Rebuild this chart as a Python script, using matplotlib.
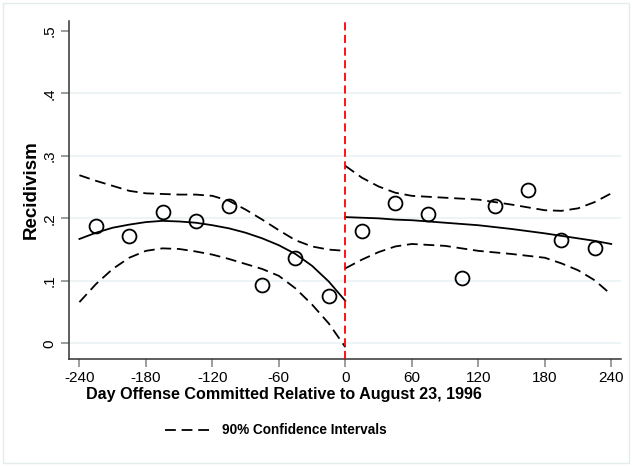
import matplotlib
matplotlib.use("Agg")
from matplotlib import pyplot as plt
from matplotlib.patches import Rectangle

plt.rcParams['font.family'] = ['Liberation Sans', 'DejaVu Sans']

# binned means (days relative to Aug 23, 1996)
bin_days = [-225, -195, -165, -135, -105, -75, -45, -15,
            15, 45, 75, 105, 135, 165, 195, 225]
bin_recid = [0.187, 0.172, 0.210, 0.196, 0.219, 0.093, 0.137, 0.076,
             0.180, 0.225, 0.207, 0.104, 0.219, 0.245, 0.165, 0.153]

# fitted line and 90% CI
left_days = [-240, -225, -210, -195, -180, -165, -150, -135, -120, -105, -90,
             -75, -60, -45, -30, -15, 0]
left_fit = [0.167, 0.177, 0.185, 0.190, 0.194, 0.196, 0.195, 0.193, 0.189, 0.184, 0.177,
            0.168, 0.157, 0.143, 0.124, 0.099, 0.068]
left_hi = [0.269, 0.260, 0.252, 0.244, 0.240, 0.239, 0.238, 0.238, 0.236, 0.228, 0.214,
           0.198, 0.181, 0.165, 0.155, 0.150, 0.148]
left_lo = [0.066, 0.095, 0.119, 0.137, 0.148, 0.152, 0.151, 0.147, 0.142, 0.135, 0.127,
           0.119, 0.108, 0.088, 0.062, 0.032, -0.006]

right_days = [0, 15, 30, 45, 60, 90, 120, 150, 180, 195, 210, 225, 240]
right_fit = [0.202, 0.201, 0.200, 0.198, 0.197, 0.193, 0.189, 0.183, 0.176, 0.172, 0.168,
             0.164, 0.159]
right_hi = [0.284, 0.265, 0.251, 0.241, 0.236, 0.233, 0.230, 0.222, 0.213, 0.212, 0.216,
            0.226, 0.240]
right_lo = [0.120, 0.134, 0.146, 0.155, 0.159, 0.156, 0.148, 0.143, 0.137, 0.128, 0.117,
            0.101, 0.078]

x_ticks = [-240, -180, -120, -60, 0, 60, 120, 180, 240]
y_ticks = [0, 0.1, 0.2, 0.3, 0.4, 0.5]
y_labels = ["0", ".1", ".2", ".3", ".4", ".5"]

fig = plt.figure(figsize=(6.32, 4.66), dpi=100)
ax = fig.add_axes([69 / 632, 1 - 359 / 466, (621 - 69) / 632, (359 - 21) / 466])

for yv in y_ticks[:-1]:
    ax.axhline(yv, color="#eaf2f3", lw=1.2, zorder=0)

dash = (0, (6, 3.2))
for d, f, hi, lo in [(left_days, left_fit, left_hi, left_lo),
                     (right_days, right_fit, right_hi, right_lo)]:
    ax.plot(d, f, color="black", lw=1.3, zorder=3)
    ax.plot(d, hi, color="black", lw=1.3, linestyle=dash, zorder=3)
    ax.plot(d, lo, color="black", lw=1.3, linestyle=dash, zorder=3)

ax.plot(bin_days, bin_recid, linestyle="none", marker="o", markersize=10,
        markerfacecolor="none", markeredgecolor="black", markeredgewidth=1.3, zorder=4)

ax.axvline(0, color="#ff0000", lw=1.3, linestyle=(0, (4.5, 2.5)), zorder=5)

ax.set_xlim(-249.4, 248.8)
ax.set_ylim(-0.025, 0.5157)
ax.set_xticks(x_ticks)
ax.set_xticklabels([str(t) for t in x_ticks], fontsize=11)
ax.set_yticks(y_ticks)
ax.set_yticklabels(y_labels, fontsize=11, rotation=90, va="center")
ax.tick_params(direction="out", length=6, width=1.2, color="#8c8c8c", pad=3)

for s in ["top", "right"]:
    ax.spines[s].set_visible(False)
for s in ["left", "bottom"]:
    ax.spines[s].set_color("#333333")
    ax.spines[s].set_linewidth(1.1)

ax.set_ylabel("Recidivism", fontsize=13.5, fontweight="bold", labelpad=2)
fig.text(283.5 / 632, 1 - 395 / 466, "Day Offense Committed Relative to August 23, 1996",
         fontsize=11.6, fontweight="bold", ha="center", va="center")

# legend below the axes
fig.lines.append(plt.Line2D([165 / 632, 213 / 632], [1 - 430 / 466] * 2,
                            transform=fig.transFigure, color="black", lw=1.3,
                            linestyle=dash))
fig.text(222 / 632, 1 - 430 / 466, "90% Confidence Intervals", fontsize=9.8,
         fontweight="bold", va="center", ha="left")

fig.patches.append(Rectangle((3 / 632, 3 / 466), 626 / 632, 460 / 466,
                             transform=fig.transFigure, fill=False,
                             edgecolor="#e4ecee", lw=1))

fig.savefig("out.png", dpi=100)
